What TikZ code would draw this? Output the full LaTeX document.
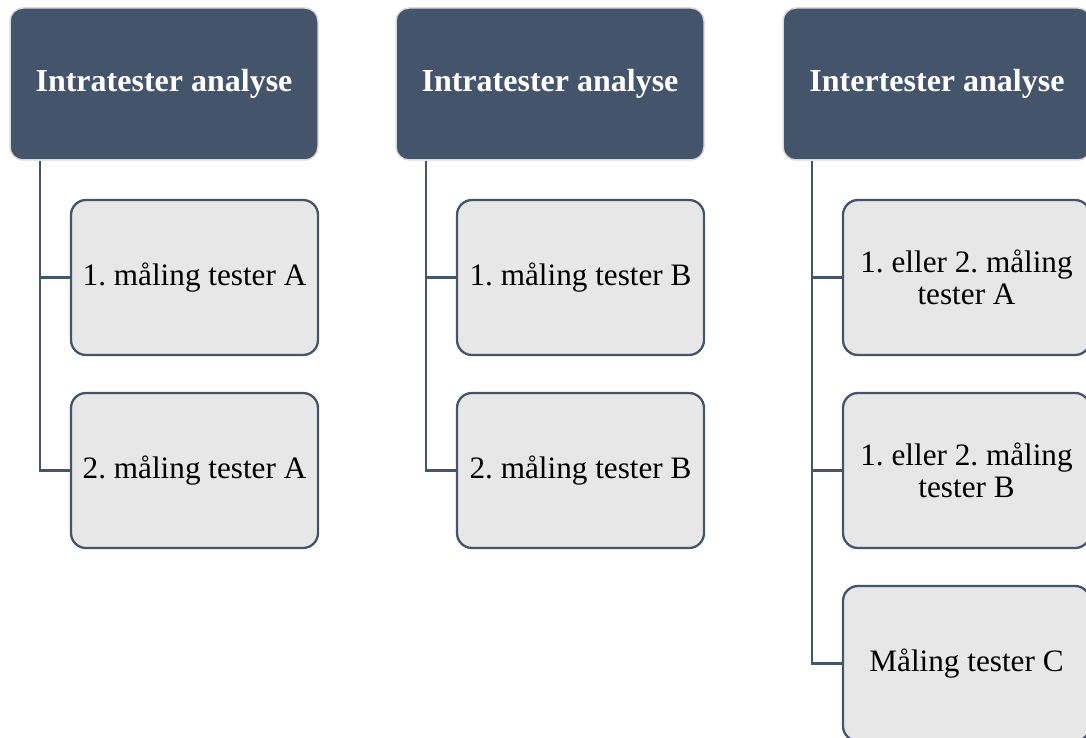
\documentclass[tikz,border=0pt]{standalone}
\usepackage{fontspec}
\setmainfont{Liberation Serif}
\definecolor{hd}{HTML}{44546A}
\definecolor{hdedge}{HTML}{DCDCDC}
\definecolor{cf}{HTML}{E7E7E7}
\frenchspacing
\begin{document}
\begin{tikzpicture}[x=1pt,y=-1pt,
  head/.style={rounded corners=13pt, fill=hd, draw=hdedge, line width=1.5pt,
    minimum width=308pt, minimum height=152pt, inner sep=0pt, text=white,
    font=\fontsize{32}{34}\selectfont\bfseries, align=center},
  child/.style={rounded corners=15pt, fill=cf, draw=hd, line width=2.3pt,
    minimum width=247pt, minimum height=155pt, inner sep=0pt, text=black,
    font=\fontsize{31.2}{32.5}\selectfont, align=center},
  conn/.style={draw=hd, line width=2.3pt}]
\useasboundingbox (0,0) rectangle (1086,738);
\clip (0,0) rectangle (1086,738);
\fill[white] (0,0) rectangle (1086,738);
% column 1
\node[head] (h1) at (164,84) {Intratester analyse};
\node[child] (c1a) at (194.5,277.5) {1. måling tester A};
\node[child] (c1b) at (194.5,470.5) {2. måling tester A};
% column 2
\node[head] (h2) at (550,84) {Intratester analyse};
\node[child] (c2a) at (580.5,277.5) {1. måling tester B};
\node[child] (c2b) at (580.5,470.5) {2. måling tester B};
% column 3
\node[head] (h3) at (937,84) {Intertester analyse};
\node[child] (c3a) at (966.5,277.5) {1. eller 2. måling\\tester A};
\node[child] (c3b) at (966.5,470.5) {1. eller 2. måling\\tester B};
\node[child] (c3c) at (966.5,663.5) {Måling tester C};
% connectors
\coordinate (v1) at ([xshift=31pt]h1.south west);
\coordinate (v2) at ([xshift=31pt]h2.south west);
\coordinate (v3) at ([xshift=30pt]h3.south west);
\draw[conn] (v1) |- (c1a.west);
\draw[conn] (v1) |- (c1b.west);
\draw[conn] (v2) |- (c2a.west);
\draw[conn] (v2) |- (c2b.west);
\draw[conn] (v3) |- (c3a.west);
\draw[conn] (v3) |- (c3b.west);
\draw[conn] (v3) |- (c3c.west);
\end{tikzpicture}
\end{document}
